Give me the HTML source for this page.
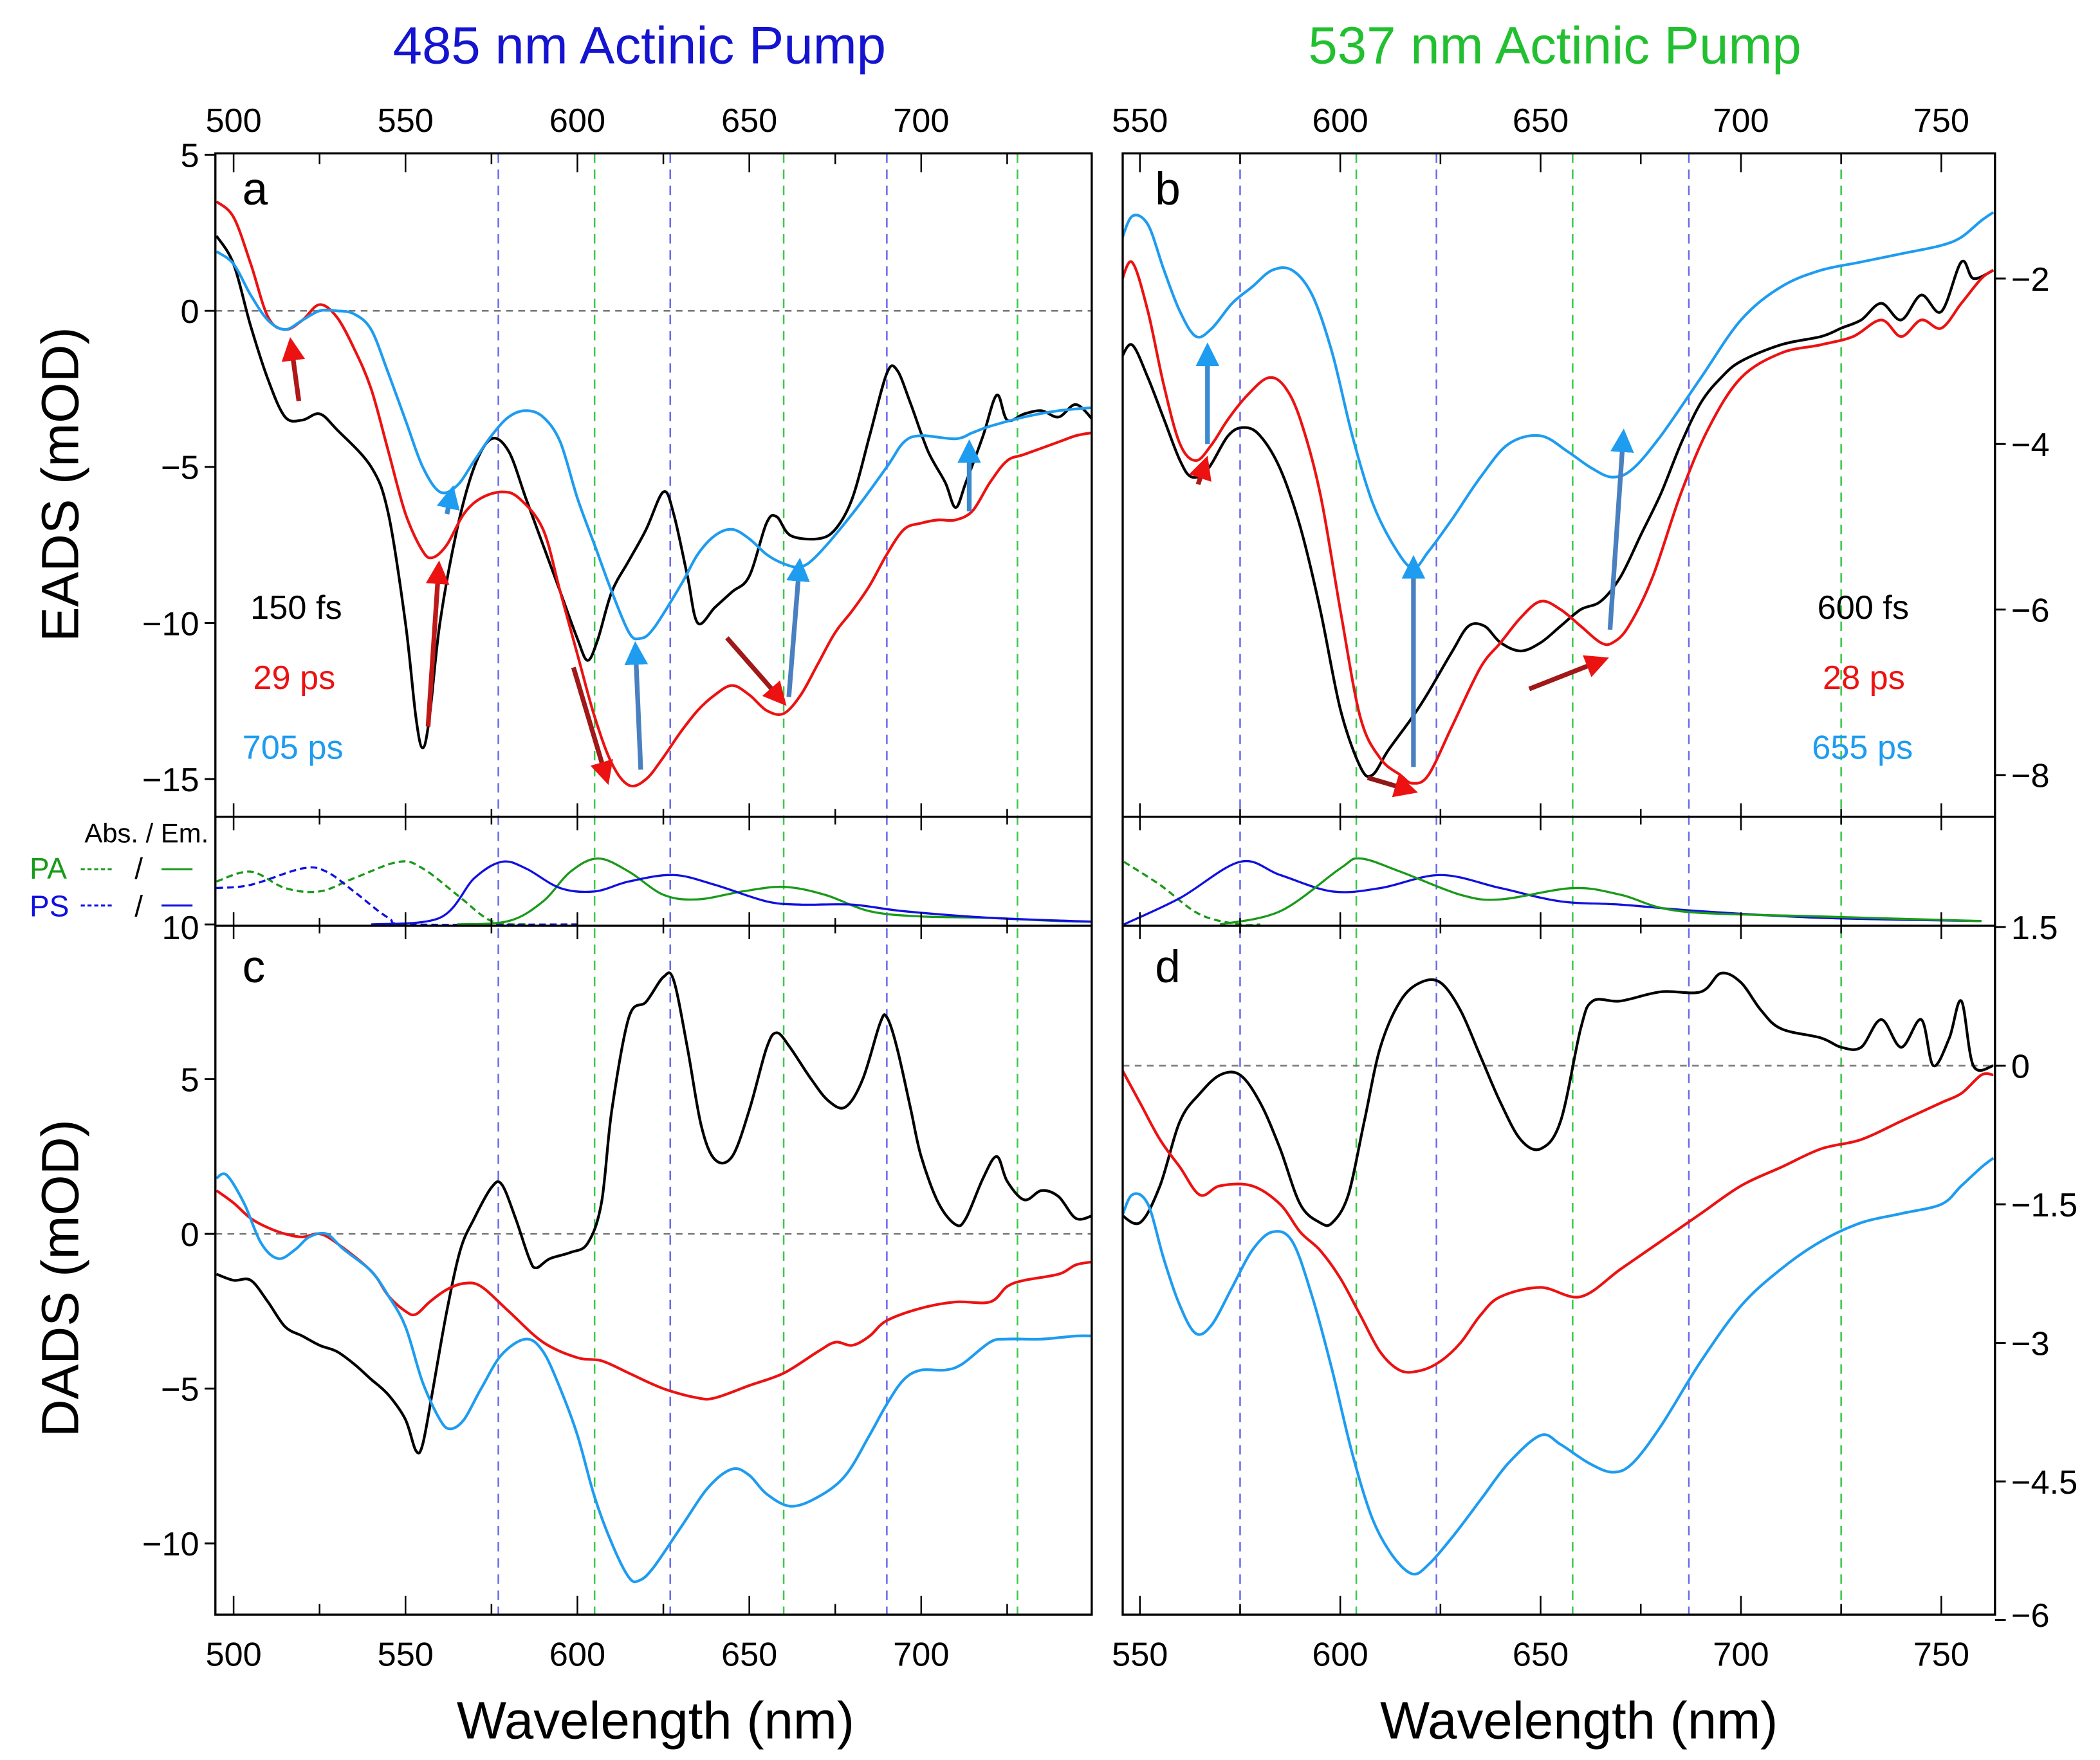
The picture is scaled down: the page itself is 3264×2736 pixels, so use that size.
<!DOCTYPE html>
<html><head><meta charset="utf-8">
<style>
html,body{margin:0;padding:0;background:#fff;}
svg{display:block;font-family:"Liberation Sans",Arial,sans-serif;}
</style></head>
<body>
<svg id="fig" width="3264" height="2736" viewBox="0 0 1560 1308" preserveAspectRatio="none" xmlns="http://www.w3.org/2000/svg">
<text x="475" y="47" font-size="39" fill="#1414d0" text-anchor="middle">485 nm Actinic Pump</text>
<text x="1155" y="47" font-size="39" fill="#22c030" text-anchor="middle">537 nm Actinic Pump</text>
<text transform="translate(58,360) rotate(-90)" font-size="39" text-anchor="middle">EADS (mOD)</text>
<text transform="translate(58,950) rotate(-90)" font-size="39" text-anchor="middle">DADS (mOD)</text>
<text x="487" y="1292" font-size="39" text-anchor="middle">Wavelength (nm)</text>
<text x="1173" y="1292" font-size="39" text-anchor="middle">Wavelength (nm)</text>
<g id="plots"></g>
</svg>
<script>
// ---------- data ----------
const aBlack=[[495,2.4],[500,1.5],[505,-0.5],[510,-2.2],[515,-3.4],[520,-3.5],[525,-3.3],[530,-3.8],[540,-5],[545,-6.5],[550,-10],[553,-13],[555,-14],[557,-13],[560,-10],[565,-7],[570,-5],[575,-4.1],[580,-4.5],[585,-6],[590,-7.5],[595,-9],[600,-10.5],[603,-11.2],[606,-10.5],[610,-9],[615,-8],[620,-7],[625,-5.8],[628,-6.5],[632,-8.5],[635,-10],[640,-9.5],[645,-9],[650,-8.5],[655,-6.8],[658,-6.6],[662,-7.2],[670,-7.3],[675,-7],[680,-6],[685,-4],[690,-2],[693,-1.9],[697,-3],[702,-4.5],[707,-5.5],[710,-6.3],[713,-5.5],[718,-4],[722,-2.7],[725,-3.5],[730,-3.3],[735,-3.2],[740,-3.4],[745,-3],[750,-3.5]];
const aRed=[[495,3.5],[500,3],[505,1.5],[510,-0.2],[515,-0.6],[520,-0.3],[525,0.2],[530,-0.2],[535,-1.2],[540,-2.5],[545,-4.5],[550,-6.5],[555,-7.7],[558,-7.9],[562,-7.5],[567,-6.5],[572,-6],[578,-5.8],[583,-6],[590,-7],[595,-9],[600,-11],[605,-13],[610,-14.5],[615,-15.2],[620,-15],[625,-14.3],[630,-13.5],[635,-12.8],[640,-12.3],[645,-12],[650,-12.3],[655,-12.8],[660,-12.9],[665,-12.3],[670,-11.3],[675,-10.3],[680,-9.6],[685,-8.8],[690,-7.8],[695,-7],[700,-6.8],[705,-6.7],[710,-6.7],[715,-6.4],[720,-5.5],[725,-4.8],[730,-4.6],[740,-4.2],[745,-4],[750,-3.9]];
const aBlue=[[495,1.9],[500,1.5],[505,0.5],[510,-0.3],[515,-0.6],[520,-0.3],[525,0],[530,0],[535,-0.1],[540,-0.6],[545,-2],[550,-3.5],[555,-5],[560,-5.8],[565,-5.6],[570,-4.8],[575,-4],[580,-3.4],[585,-3.2],[590,-3.4],[595,-4.2],[600,-6],[605,-7.5],[610,-9],[615,-10.3],[618,-10.5],[622,-10.2],[630,-8.8],[635,-7.8],[640,-7.2],[645,-7],[650,-7.3],[655,-7.8],[660,-8.1],[665,-8.2],[670,-7.8],[680,-6.5],[690,-5],[695,-4.2],[700,-4],[710,-4.1],[715,-3.9],[720,-3.7],[730,-3.4],[740,-3.2],[750,-3.1]];
const cBlack=[[495,-1.3],[500,-1.5],[505,-1.5],[510,-2.2],[515,-3],[520,-3.3],[525,-3.6],[530,-3.8],[535,-4.2],[540,-4.7],[545,-5.2],[550,-6],[553,-7],[555,-6.8],[558,-5],[562,-2.5],[566,-0.5],[570,0.5],[575,1.5],[578,1.6],[582,0.5],[586,-0.8],[588,-1.1],[592,-0.8],[598,-0.6],[603,-0.3],[607,1],[610,4],[615,7],[620,7.5],[625,8.3],[628,8.2],[632,6],[636,3.5],[640,2.4],[645,2.5],[650,4],[655,6],[658,6.5],[662,6],[668,5],[673,4.3],[678,4.1],[683,5],[688,6.8],[690,7],[693,6],[697,4],[700,2.5],[705,1],[710,0.3],[713,0.5],[718,1.8],[722,2.5],[725,1.7],[730,1.1],[735,1.4],[740,1.2],[745,0.5],[750,0.6]];
const cRed=[[495,1.4],[500,1],[505,0.5],[510,0.2],[515,0],[520,-0.1],[525,0],[530,-0.3],[540,-1.2],[545,-2],[550,-2.5],[553,-2.6],[557,-2.2],[562,-1.8],[567,-1.6],[572,-1.7],[580,-2.5],[590,-3.5],[600,-4],[607,-4.1],[615,-4.5],[625,-5],[635,-5.3],[640,-5.3],[650,-4.9],[660,-4.5],[670,-3.8],[675,-3.5],[680,-3.6],[685,-3.3],[690,-2.8],[700,-2.4],[710,-2.2],[720,-2.2],[725,-1.7],[730,-1.5],[740,-1.3],[745,-1],[750,-0.9]];
const cBlue=[[495,1.8],[498,1.9],[503,1],[508,-0.3],[513,-0.8],[518,-0.5],[522,-0.1],[527,0],[532,-0.5],[540,-1.2],[545,-2],[550,-3],[555,-4.8],[560,-6],[563,-6.3],[567,-6],[572,-5],[578,-3.9],[585,-3.4],[590,-3.8],[595,-5],[600,-6.5],[605,-8.5],[610,-10],[615,-11.1],[618,-11.2],[622,-10.8],[630,-9.5],[638,-8.2],[645,-7.6],[650,-7.8],[655,-8.4],[662,-8.8],[670,-8.5],[678,-7.8],[685,-6.5],[690,-5.5],[695,-4.7],[700,-4.4],[707,-4.4],[712,-4.2],[720,-3.5],[725,-3.4],[735,-3.4],[745,-3.3],[750,-3.3]];
const bBlack=[[545,-3.0],[548,-2.8],[552,-3.2],[556,-3.7],[560,-4.2],[563,-4.4],[567,-4.3],[572,-3.9],[576,-3.8],[580,-3.9],[585,-4.3],[590,-5],[595,-6],[600,-7.2],[605,-7.9],[608,-8.0],[612,-7.7],[618,-7.3],[622,-7.0],[628,-6.5],[632,-6.2],[636,-6.2],[640,-6.4],[645,-6.5],[650,-6.4],[655,-6.2],[660,-6.0],[665,-5.9],[670,-5.6],[675,-5.1],[680,-4.6],[685,-4.0],[690,-3.5],[695,-3.2],[700,-3.0],[710,-2.8],[720,-2.7],[725,-2.6],[730,-2.5],[735,-2.3],[740,-2.5],[745,-2.2],[750,-2.4],[755,-1.8],[758,-2.0],[763,-1.9]];
const bRed=[[545,-2.1],[548,-1.8],[552,-2.4],[556,-3.3],[560,-4.0],[564,-4.2],[568,-4.0],[572,-3.7],[577,-3.4],[582,-3.2],[586,-3.3],[590,-3.7],[595,-4.6],[600,-6],[605,-7.3],[610,-7.8],[615,-8.0],[618,-8.1],[622,-8.0],[628,-7.4],[635,-6.7],[640,-6.4],[645,-6.1],[650,-5.9],[655,-6.0],[660,-6.2],[665,-6.4],[668,-6.4],[672,-6.2],[678,-5.6],[685,-4.6],[692,-3.8],[700,-3.2],[710,-2.9],[720,-2.8],[728,-2.7],[735,-2.5],[740,-2.7],[745,-2.5],[750,-2.6],[755,-2.3],[760,-2.0],[763,-1.9]];
const bBlue=[[545,-1.6],[548,-1.25],[552,-1.35],[556,-1.9],[560,-2.4],[564,-2.7],[568,-2.6],[573,-2.3],[578,-2.1],[583,-1.9],[588,-1.9],[593,-2.2],[598,-2.9],[603,-3.9],[608,-4.7],[613,-5.2],[618,-5.5],[622,-5.3],[628,-4.9],[635,-4.4],[642,-4.0],[650,-3.9],[657,-4.1],[663,-4.3],[668,-4.4],[673,-4.3],[680,-3.9],[690,-3.2],[700,-2.5],[710,-2.1],[720,-1.9],[730,-1.8],[740,-1.7],[750,-1.6],[755,-1.5],[760,-1.3],[763,-1.2]];
const dBlack=[[545,-1.6],[550,-1.7],[555,-1.3],[560,-0.6],[565,-0.3],[570,-0.1],[575,-0.1],[580,-0.4],[585,-0.9],[590,-1.5],[595,-1.7],[598,-1.7],[602,-1.4],[606,-0.6],[610,0.2],[615,0.7],[620,0.9],[625,0.9],[630,0.6],[635,0.1],[640,-0.4],[645,-0.8],[650,-0.9],[655,-0.6],[660,0.4],[663,0.7],[670,0.7],[680,0.8],[690,0.8],[695,1.0],[700,0.9],[705,0.6],[710,0.4],[720,0.3],[725,0.2],[730,0.2],[735,0.5],[740,0.2],[745,0.5],[748,0.0],[752,0.3],[755,0.7],[758,0.0],[763,0.0]];
const dRed=[[545,0.0],[550,-0.4],[555,-0.8],[560,-1.1],[565,-1.4],[570,-1.3],[578,-1.3],[585,-1.5],[590,-1.8],[595,-2.0],[600,-2.3],[605,-2.7],[610,-3.1],[615,-3.3],[620,-3.3],[625,-3.2],[630,-3.0],[635,-2.7],[640,-2.5],[650,-2.4],[660,-2.5],[670,-2.2],[680,-1.9],[690,-1.6],[700,-1.3],[710,-1.1],[720,-0.9],[730,-0.8],[740,-0.6],[750,-0.4],[755,-0.3],[760,-0.1],[763,-0.1]];
const dBlue=[[545,-1.7],[548,-1.4],[552,-1.5],[556,-2.1],[560,-2.6],[564,-2.9],[568,-2.8],[573,-2.4],[578,-2.0],[583,-1.8],[588,-1.9],[593,-2.5],[598,-3.3],[603,-4.2],[608,-4.9],[613,-5.3],[618,-5.5],[622,-5.4],[628,-5.1],[635,-4.7],[642,-4.3],[650,-4.0],[655,-4.1],[662,-4.3],[668,-4.4],[673,-4.3],[680,-3.9],[690,-3.2],[700,-2.6],[710,-2.2],[720,-1.9],[730,-1.7],[740,-1.6],[750,-1.5],[755,-1.3],[760,-1.1],[763,-1.0]];
const sAPAabs=[[495,0.65],[505,0.8],[515,0.55],[525,0.5],[535,0.7],[548,0.95],[555,0.85],[565,0.45],[575,0.05],[585,0]];
const sAPSabs=[[495,0.55],[505,0.6],[520,0.85],[527,0.8],[535,0.5],[545,0.1],[552,0],[600,0]];
const sAPAem=[[565,0],[580,0.05],[590,0.35],[598,0.8],[606,1.0],[615,0.8],[625,0.45],[635,0.38],[648,0.5],[660,0.57],[672,0.45],[685,0.2],[700,0.12],[720,0.1],[740,0.05],[750,0.04]];
const sAPSem=[[540,0],[560,0.1],[570,0.7],[578,0.95],[585,0.85],[595,0.55],[605,0.5],[615,0.65],[628,0.75],[640,0.6],[655,0.35],[665,0.3],[680,0.3],[695,0.2],[720,0.1],[750,0.04]];
const sBPAabs=[[546,0.95],[555,0.6],[565,0.15],[575,0],[580,0]];
const sBPSem=[[546,0],[560,0.4],[575,0.95],[585,0.75],[598,0.5],[610,0.55],[625,0.75],[640,0.55],[655,0.35],[670,0.3],[690,0.2],[720,0.1],[760,0.05]];
const sBPAem=[[570,0],[585,0.2],[600,0.85],[605,1.0],[615,0.8],[630,0.45],[640,0.38],[658,0.55],[670,0.45],[685,0.2],[720,0.12],[760,0.05]];
const leftTicks=[500,550,600,650,700];
const rightTicks=[550,600,650,700,750];
const aYTicks=[5,0,-5,-10,-15];
const cYTicks=[10,5,0,-5,-10];
const bYTicks=[-2,-4,-6,-8];
const dYTicks=[1.5,0,-1.5,-3,-4.5,-6];
const linesL={blue:[577,627,690],green:[605,660,728]};
const linesR={blue:[575,624,687],green:[604,658,725]};

// ---------- helpers ----------
const NS="http://www.w3.org/2000/svg";
const root=document.getElementById('plots');
function mk(tag,attrs,parent){const e=document.createElementNS(NS,tag);for(const k in attrs)e.setAttribute(k,attrs[k]);(parent||root).appendChild(e);return e;}
function lin(d0,d1,r0,r1){return v=>r0+(v-d0)*(r1-r0)/(d1-d0);}
function smooth(pts){let d='M'+pts[0][0].toFixed(1)+','+pts[0][1].toFixed(1);
 for(let i=0;i<pts.length-1;i++){const p0=pts[Math.max(0,i-1)],p1=pts[i],p2=pts[i+1],p3=pts[Math.min(pts.length-1,i+2)];
 const c1=[p1[0]+(p2[0]-p0[0])/6,p1[1]+(p2[1]-p0[1])/6],c2=[p2[0]-(p3[0]-p1[0])/6,p2[1]-(p3[1]-p1[1])/6];
 d+='C'+c1.map(v=>v.toFixed(1)).join(',')+' '+c2.map(v=>v.toFixed(1)).join(',')+' '+p2[0].toFixed(1)+','+p2[1].toFixed(1);}return d;}
function series(data,X,Y,color,name,g,w,dash){const p=mk('path',{d:smooth(data.map(q=>[X(q[0]),Y(q[1])])),fill:'none',stroke:color,'stroke-width':w||2,'stroke-linejoin':'round'},g);
 if(dash)p.setAttribute('stroke-dasharray',dash);
 
 return p;}

const TOP=114,MID1=607,MID2=688,BOT=1200;
const BLK='#000',RED='#ec1212',LB='#1e9cf0',PAG='#1a9a1a',PSB='#1010e0';

function column(opt){
 const X=lin(opt.nm0,opt.nm1,opt.x0,opt.x1);
 const g=mk('g',{});
 
 
 const cid='clip'+opt.key;
 const cp=mk('clipPath',{id:cid},g);mk('rect',{x:opt.x0,y:TOP,width:opt.x1-opt.x0,height:BOT-TOP},cp);
 for(const c of ['blue','green'])for(const v of opt.lines[c]){const l=mk('line',{x1:X(v),x2:X(v),y1:TOP,y2:BOT,stroke:c==='blue'?'#6a6aee':'#3cc84a','stroke-width':1.2,'stroke-dasharray':'7,5'},g);
  
  }
 const gc=mk('g',{'clip-path':'url(#'+cid+')'},g);
 const Yu=opt.Yu,Yl=opt.Yl;
 if(opt.zeroU!==undefined){const z=mk('line',{x1:opt.x0,x2:opt.x1,y1:Yu(0),y2:Yu(0),stroke:'#777','stroke-width':1.2,'stroke-dasharray':'5,4'},gc);
  
  }
 const zl=mk('line',{x1:opt.x0,x2:opt.x1,y1:Yl(0),y2:Yl(0),stroke:'#777','stroke-width':1.2,'stroke-dasharray':'5,4'},gc);
 
 
 const cpu=mk('clipPath',{id:cid+'u'},g);mk('rect',{x:opt.x0,y:TOP,width:opt.x1-opt.x0,height:MID1-TOP},cpu);
 const gu=mk('g',{'clip-path':'url(#'+cid+'u)'},gc);
 series(opt.up[0],X,Yu,BLK,'series-early',gu);series(opt.up[1],X,Yu,RED,'series-mid',gu);series(opt.up[2],X,Yu,LB,'series-late',gu);
 const gl=mk('g',{},gc);
 series(opt.lo[0],X,Yl,BLK,'dads-early',gl);series(opt.lo[1],X,Yl,RED,'dads-mid',gl);series(opt.lo[2],X,Yl,LB,'dads-late',gl);
 const Ys=lin(0,1,MID2-1,638);
 for(const s of opt.strip)series(s[0],X,Ys,s[1],s[2],gc,1.6,s[3]);
 const fr=mk('rect',{x:opt.x0,y:TOP,width:opt.x1-opt.x0,height:BOT-TOP,fill:'none',stroke:'#000','stroke-width':1.6},g);
 
 
 mk('line',{x1:opt.x0,x2:opt.x1,y1:MID1,y2:MID1,stroke:'#000','stroke-width':1.6},g);
 mk('line',{x1:opt.x0,x2:opt.x1,y1:MID2,y2:MID2,stroke:'#000','stroke-width':1.6},g);
 for(let v=opt.minorStart;v<=opt.nm1;v+=25){const x=X(v);if(x<opt.x0)continue;const major=v%50===0,L=major?14:8;
  for(const y of [TOP,BOT])mk('line',{x1:x,x2:x,y1:y-(y===BOT?L:0),y2:y+(y===TOP?L:0),stroke:'#000','stroke-width':1.2},g);
  for(const y of [MID1,MID2])mk('line',{x1:x,x2:x,y1:y-L/1.4,y2:y+L/1.4,stroke:'#000','stroke-width':1.2},g);}
 for(const v of opt.xticks){const t1=mk('text',{x:X(v),y:98,'font-size':25,'text-anchor':'middle'},g);t1.textContent=v;
  
  
  const t2=mk('text',{x:X(v),y:1238,'font-size':25,'text-anchor':'middle'},g);t2.textContent=v;
  
  }
 const side=opt.side;
 for(const v of opt.uTicks){const y=Yu(v);const xa=side==='L'?opt.x0:opt.x1;
  mk('line',{x1:xa,x2:side==='L'?xa-8:xa+8,y1:y,y2:y,stroke:'#000','stroke-width':1.4},g);
  const t=mk('text',{x:side==='L'?xa-12:xa+12,y:y+9,'font-size':25,'text-anchor':side==='L'?'end':'start'},g);t.textContent=String(v).replace('-','\u2212');
  
  }
 for(const v of opt.lTicks){const y=Yl(v);const xa=side==='L'?opt.x0:opt.x1;
  mk('line',{x1:xa,x2:side==='L'?xa-8:xa+8,y1:y,y2:y,stroke:'#000','stroke-width':1.4},g);
  const t=mk('text',{x:side==='L'?xa-12:xa+12,y:Math.min(Math.max(y+9,MID2+10),BOT+9),'font-size':25,'text-anchor':side==='L'?'end':'start'},g);t.textContent=String(v).replace('-','\u2212');
  
  }
 return {X,g};
}

const A=column({key:'L',nm0:494.7,nm1:749.6,x0:160,x1:811,Yu:lin(0,-5,231,347),Yl:lin(0,-5,917,1032),zeroU:true,
 up:[aBlack,aRed,aBlue],lo:[cBlack,cRed,cBlue],lines:linesL,xticks:leftTicks,minorStart:500,uTicks:aYTicks,lTicks:cYTicks,side:'L',
 strip:[[sAPAabs,PAG,'pa-absorption','5,3'],[sAPSabs,PSB,'ps-absorption','5,3'],[sAPAem,PAG,'pa-emission'],[sAPSem,PSB,'ps-emission']]});
const B=column({key:'R',nm0:545.7,nm1:763.4,x0:834,x1:1482,Yu:lin(-2,-4,207,330),Yl:lin(0,-1.5,792,895),
 up:[bBlack,bRed,bBlue],lo:[dBlack,dRed,dBlue],lines:linesR,xticks:rightTicks,minorStart:550,uTicks:bYTicks,lTicks:dYTicks,side:'R',
 strip:[[sBPAabs,PAG,'pa-absorption','5,3'],[sBPSem,PSB,'ps-emission'],[sBPAem,PAG,'pa-emission']]});

function txt(x,y,s,fs,fill,name,anchor){const t=mk('text',{x:x,y:y,'font-size':fs,fill:fill,'text-anchor':anchor||'start'});t.textContent=s;
 
 return t;}
txt(180,152,'a',34,'#000','panel-label-a');txt(858,152,'b',34,'#000','panel-label-b');
txt(180,730,'c',34,'#000','panel-label-c');txt(858,730,'d',34,'#000','panel-label-d');
txt(186,460,'150 fs',25,'#000','legend-150fs');txt(188,512,'29 ps',25,RED,'legend-29ps');txt(180,564,'705 ps',25,LB,'legend-705ps');
txt(1350,460,'600 fs',25,'#000','legend-600fs');txt(1354,512,'28 ps',25,RED,'legend-28ps');txt(1346,564,'655 ps',25,LB,'legend-655ps');
txt(155,626,'Abs. / Em.',20,'#000','strip-legend-title','end');
txt(22,653,'PA',22,PAG,'strip-legend-pa');txt(22,681,'PS',22,PSB,'strip-legend-ps');
mk('line',{x1:60,x2:85,y1:646,y2:646,stroke:PAG,'stroke-width':1.5,'stroke-dasharray':'3,2'});mk('line',{x1:120,x2:143,y1:646,y2:646,stroke:PAG,'stroke-width':1.5});
mk('line',{x1:60,x2:85,y1:673,y2:673,stroke:PSB,'stroke-width':1.5,'stroke-dasharray':'3,2'});mk('line',{x1:120,x2:143,y1:673,y2:673,stroke:PSB,'stroke-width':1.5});
txt(100,653,'/',22,'#000','slash');txt(100,681,'/',22,'#000','slash');
const defs=mk('defs',{});
function marker(id,c){const m=mk('marker',{id:id,viewBox:'0 0 10 10',refX:8,refY:5,markerWidth:5,markerHeight:5,orient:'auto'},defs);mk('path',{d:'M0,0L10,5L0,10z',fill:c},m);}
marker('mr',RED);marker('mb',LB);
function arrow(x1,y1,x2,y2,c,m){const l=mk('line',{x1:x1,y1:y1,x2:x2,y2:y2,stroke:c,'stroke-width':3.5,'marker-end':'url(#'+m+')'});
 
 }
arrow(222,298,216,254,'#b01818','mr');arrow(318,540,326,420,'#c01818','mr');arrow(426,496,451,580,'#a01818','mr');arrow(540,474,582,522,'#a01818','mr');
arrow(332,382,336,364,'#3a8ad0','mb');arrow(476,572,472,480,'#4a80c0','mb');arrow(586,518,594,418,'#4a80c0','mb');arrow(720,380,720,330,'#3a8ad0','mb');
arrow(890,360,896,342,'#b01818','mr');arrow(1016,578,1050,588,'#901818','mr');arrow(1136,512,1192,490,'#a01818','mr');
arrow(897,330,897,258,'#3a8ad0','mb');arrow(1050,570,1050,416,'#4a80c0','mb');arrow(1196,468,1206,322,'#4a80c0','mb');
</script>
</body></html>
